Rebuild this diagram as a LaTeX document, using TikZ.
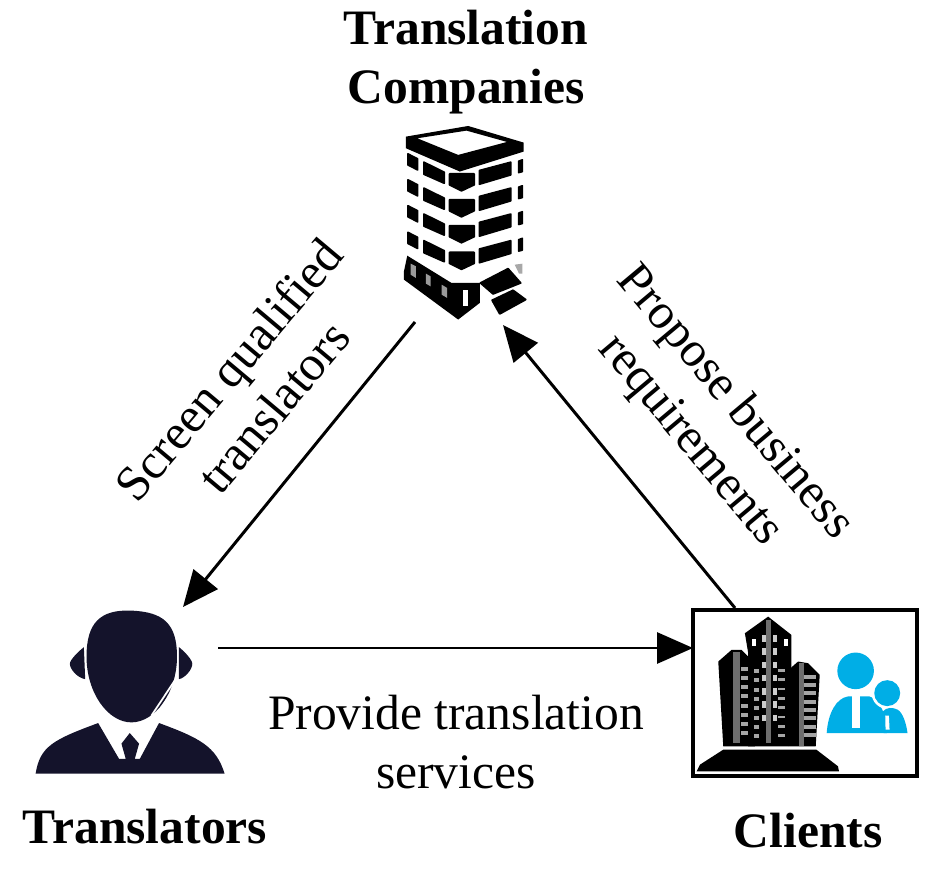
\documentclass[tikz,border=0pt]{standalone}
\usepackage{fontspec}
\setmainfont{Liberation Serif}
\usetikzlibrary{arrows.meta,positioning}
\definecolor{agentblue}{HTML}{14132B}
\definecolor{clientcyan}{HTML}{00AEE6}
\definecolor{towergray}{HTML}{6E6E6E}
\tikzset{
  actor/.style={font=\fontsize{14.1}{16.8}\selectfont\bfseries,align=center,inner sep=0pt},
  flowlabel/.style={font=\fontsize{14.1}{16.6}\selectfont,align=center,inner sep=0pt},
  flow/.style={-{Triangle[length=3.6mm,width=3.1mm]},line width=0.85pt,black},
  clientbox/.style={draw=black,line width=1.1pt,minimum width=2.24cm,minimum height=1.66cm,inner sep=0pt},
  pane/.style={fill=black,draw=black,line width=0.5pt,line join=round}
}
\begin{document}
\begin{tikzpicture}
\useasboundingbox (0,0) rectangle (9.45,8.75);

\node[actor] (companies) at (4.66,8.13){Translation\\Companies};
\node[actor] (translators) at (1.45,0.48){Translators};
\node[actor] (clients) at (8.08,0.44){Clients};
\node[clientbox] (clientframe) at (8.05,1.82){};
\node[flowlabel] (services) at (4.56,1.33){Provide translation\\services};
\node[flowlabel,rotate=50] (screen) at (2.51,4.87){Screen qualified\\translators};
\node[flowlabel,rotate=-50] (propose) at (7.12,4.53){Propose business\\requirements};

\coordinate (companyout) at (4.15,5.53);
\coordinate (companyin) at (5.03,5.50);
\coordinate (agenttop) at (1.83,2.68);
\coordinate (agentright) at (2.18,2.27);
\coordinate (clientleft) at (6.93,2.27);
\coordinate (clienttop) at (7.35,2.67);
\draw[flow] (companyout) -- (agenttop);
\draw[flow] (agentright) -- (clientleft);
\draw[flow] (clienttop) -- (companyin);

% company building
\begin{scope}[shift={(3.80,7.55)},x=0.00333cm,y=-0.00333cm]
\fill[even odd rule] (78,50) -- (265,18) -- (432,68) -- (432,95) -- (240,155) -- (78,85) -- cycle
  (112,55) -- (260,32) -- (382,66) -- (235,105) -- cycle;
\foreach \dy in {0,78,156,236}{
  \path[pane,yshift=-\dy*0.00333cm] (84,102) -- (113,117) -- (113,150) -- (84,135) -- cycle;
  \path[pane,yshift=-\dy*0.00333cm] (132,127) -- (193,157) -- (193,190) -- (132,163) -- cycle;
  \path[pane,yshift=-\dy*0.00333cm] (209,162) -- (283,162) -- (283,195) -- (245,213) -- (209,195) -- cycle;
  \path[pane,yshift=-\dy*0.00333cm] (299,152) -- (393,127) -- (393,165) -- (299,193) -- cycle;
  \path[pane,yshift=-\dy*0.00333cm] (417,124) -- (428,120) -- (428,155) -- (417,158) -- cycle;
}
\fill (82,408) -- (215,490) -- (300,490) -- (300,550) -- (235,600) -- (72,480) -- (72,455) -- cycle;
\fill[towergray!70] (92,432) -- (108,440) -- (108,475) -- (92,465) -- cycle;
\fill[towergray!70] (138,462) -- (152,470) -- (152,500) -- (138,492) -- cycle;
\fill[towergray!70] (185,495) -- (202,505) -- (202,535) -- (185,525) -- cycle;
\fill[white] (250,510) -- (265,510) -- (265,560) -- (250,560) -- cycle;
\path[pane] (302,490) -- (385,447) -- (423,490) -- (340,523) -- cycle;
\path[pane] (337,542) -- (400,512) -- (438,540) -- (360,583) -- cycle;
\fill[towergray!60] (405,435) -- (428,432) -- (428,462) -- (418,462) -- cycle;
\end{scope}

% translator icon
\begin{scope}[shift={(0.20,2.85)},x=0.00333cm,y=-0.00333cm,agentblue]
\fill (192,172) .. controls (175,185) and (150,210) .. (150,222) .. controls (150,240) and (175,265) .. (196,268) -- cycle;
\fill (478,172) .. controls (495,185) and (518,210) .. (518,222) .. controls (518,240) and (495,265) .. (478,268) -- cycle;
\fill (335,62) .. controls (240,58) and (200,100) .. (200,200) .. controls (200,310) and (265,398) .. (335,398) .. controls (405,398) and (472,310) .. (472,200) .. controls (472,100) and (430,66) .. (335,62) -- cycle;
\fill (47,552) .. controls (60,470) and (100,450) .. (235,400) -- (298,508) -- (318,508) -- (305,462) -- (330,430) -- (358,462) -- (345,508) -- (360,508) -- (418,400) .. controls (540,445) and (590,470) .. (615,552) -- cycle;
\draw[white,line width=0.5pt] (480,270) -- (405,385);
\draw[white,line width=0.5pt] (468,268) -- (395,378);
\end{scope}

% client icon
\begin{scope}[shift={(6.80,2.75)},x=0.00333cm,y=-0.00333cm]
\fill (115,185) -- (155,150) -- (185,150) -- (225,190) -- (225,440) -- (130,440) -- cycle;
\fill (195,100) -- (265,50) -- (335,105) -- (335,190) -- (325,440) -- (205,440) -- (205,160) -- cycle;
\fill (315,220) -- (355,185) -- (385,190) -- (420,225) -- (408,440) -- (325,440) -- cycle;
\fill[towergray] (160,155) -- (180,155) -- (180,430) -- (160,430) -- cycle;
\fill[towergray] (258,60) -- (275,60) -- (275,430) -- (258,430) -- cycle;
\fill[towergray] (358,190) -- (372,190) -- (372,440) -- (358,440) -- cycle;
\foreach \wy in {105,145,185,225,265,305,345}{
  \fill[white!80!black] (246,\wy) -- (258,\wy) -- (258,\wy+20) -- (246,\wy+20) -- cycle;
  \fill[white!80!black] (280,\wy) -- (292,\wy) -- (292,\wy+20) -- (280,\wy+20) -- cycle;
}
\foreach \wy in {200,228,256,284,312,340,368,395}{
  \fill[white!65!black] (183,\wy) -- (205,\wy) -- (205,\wy+12) -- (183,\wy+12) -- cycle;
  \fill[white!65!black] (222,\wy+8) -- (238,\wy+8) -- (238,\wy+20) -- (222,\wy+20) -- cycle;
  \fill[white!65!black] (296,\wy+8) -- (315,\wy+8) -- (315,\wy+16) -- (296,\wy+16) -- cycle;
}
\foreach \wy in {225,250,275,300,325,350,375,400}{
  \fill[white!65!black] (374,\wy) -- (410,\wy) -- (410,\wy+12) -- (374,\wy+12) -- cycle;
}
\fill[white] (215,118) -- (228,118) -- (228,138) -- (215,138) -- cycle;
\fill[white] (312,118) -- (326,118) -- (326,138) -- (312,138) -- cycle;
\fill (50,515) -- (60,495) -- (130,450) -- (410,450) -- (475,500) -- (478,515) -- cycle;
\fill[clientcyan] (528,213) circle[radius=55];
\fill[clientcyan] (441,400) .. controls (445,340) and (470,295) .. (505,290) -- (570,290) .. controls (600,300) and (620,340) .. (622,400) -- cycle;
\fill[white] (518,290) -- (540,290) -- (540,385) -- (518,385) -- cycle;
\fill[white] (623,280) circle[radius=47];
\fill[clientcyan] (623,280) circle[radius=39];
\fill[clientcyan] (612,400) -- (610,335) .. controls (620,322) and (640,322) .. (655,330) .. controls (670,340) and (680,370) .. (684,400) -- cycle;
\fill[white] (617,348) -- (628,348) -- (630,390) -- (618,390) -- cycle;
\end{scope}

\end{tikzpicture}
\end{document}
